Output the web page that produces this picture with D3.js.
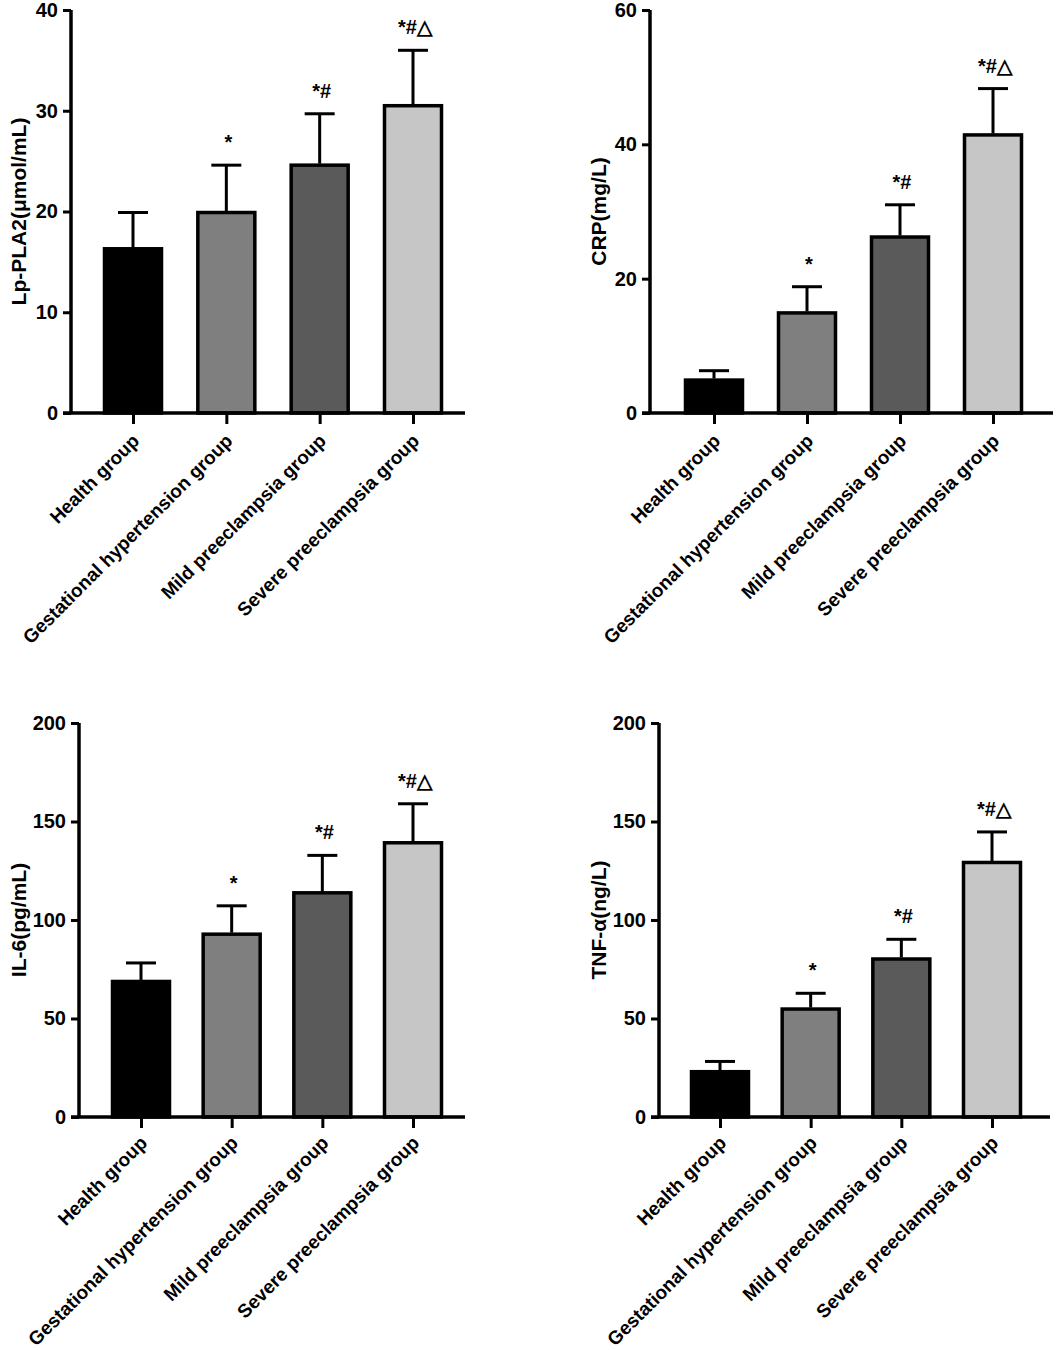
<!DOCTYPE html>
<html>
<head>
<meta charset="utf-8">
<script src="https://cdn.jsdelivr.net/npm/d3@7/dist/d3.min.js"></script>
<style>
  html, body { margin: 0; padding: 0; background: #fff; }
  svg { display: block; }
  text { font-family: "Liberation Sans", Arial, sans-serif; }
</style>
</head>
<body>
<svg id="chart" width="1064" height="1350"></svg>
<script>
// ---------------- DATA ----------------
const categories = ["Health group", "Gestational hypertension group", "Mild preeclampsia group", "Severe preeclampsia group"];
const barColors = ["#000000", "#7f7f7f", "#5a5a5a", "#c6c6c6"];
const marks = ["", "*", "*#", "*#\u25B3"];

const lpMean = [16.3, 19.9, 24.6, 30.5];
const lpSD   = [3.6, 4.7, 5.1, 5.5];
const crpMean = [4.9, 14.9, 26.2, 41.4];
const crpSD   = [1.4, 3.9, 4.8, 6.9];
const il6Mean = [68.8, 92.8, 113.8, 139.2];
const il6SD   = [9.4, 14.4, 19.0, 19.8];
const tnfMean = [23.0, 54.8, 80.2, 129.2];
const tnfSD   = [5.2, 8.0, 10.0, 15.5];

const lpTicks = [0, 10, 20, 30, 40];
const crpTicks = [0, 20, 40, 60];
const cytoTicks = [0, 50, 100, 150, 200];

// ---------------- LAYOUT ----------------
const panels = [
  { title: "Lp-PLA2(\u03bcmol/mL)", mean: lpMean, sd: lpSD, ticks: lpTicks, max: 40,
    axisX: 71, axisEnd: 465, yTop: 10, yBot: 413, c0: 133, c1: 413, labX: 18, labDy: 29 },
  { title: "CRP(mg/L)", mean: crpMean, sd: crpSD, ticks: crpTicks, max: 60,
    axisX: 650, axisEnd: 1053, yTop: 10, yBot: 413, c0: 714, c1: 993, labX: 598, labDy: 29 },
  { title: "IL-6(pg/mL)", mean: il6Mean, sd: il6SD, ticks: cytoTicks, max: 200,
    axisX: 79, axisEnd: 465, yTop: 723, yBot: 1117, c0: 141, c1: 413, labX: 18, labDy: 27 },
  { title: "TNF-\u03b1(ng/L)", mean: tnfMean, sd: tnfSD, ticks: cytoTicks, max: 200,
    axisX: 659, axisEnd: 1050, yTop: 723, yBot: 1117, c0: 720, c1: 992, labX: 598, labDy: 27 }
];

const svg = d3.select("#chart");
const barW = 57;
const capW = 30;
const FONT = "'Liberation Sans', Arial, sans-serif";

panels.forEach(p => {
  const g = svg.append("g");
  const y = d3.scaleLinear().domain([0, p.max]).range([p.yBot, p.yTop]);
  const x = d3.scalePoint().domain(categories).range([p.c0, p.c1]);

  // bars
  g.selectAll("rect.bar").data(categories).enter().append("rect")
    .attr("x", d => x(d) - barW / 2)
    .attr("y", (d, i) => y(p.mean[i]))
    .attr("width", barW)
    .attr("height", (d, i) => y(0) - y(p.mean[i]))
    .attr("fill", (d, i) => barColors[i])
    .attr("stroke", "#000")
    .attr("stroke-width", 3.5);

  // error bars
  g.selectAll("line.err").data(categories).enter().append("line")
    .attr("x1", d => x(d)).attr("x2", d => x(d))
    .attr("y1", (d, i) => y(p.mean[i]) - 1.5)
    .attr("y2", (d, i) => y(p.mean[i] + p.sd[i]))
    .attr("stroke", "#000").attr("stroke-width", 3);
  g.selectAll("line.cap").data(categories).enter().append("line")
    .attr("x1", d => x(d) - capW / 2).attr("x2", d => x(d) + capW / 2)
    .attr("y1", (d, i) => y(p.mean[i] + p.sd[i]))
    .attr("y2", (d, i) => y(p.mean[i] + p.sd[i]))
    .attr("stroke", "#000").attr("stroke-width", 3);

  // significance marks
  g.selectAll("text.mark").data(categories).enter().append("text")
    .attr("x", d => x(d) + 2)
    .attr("y", (d, i) => y(p.mean[i] + p.sd[i]) - 16)
    .attr("text-anchor", "middle")
    .attr("font-size", 20)
    .attr("font-weight", "bold")
    .attr("fill", "#000")
    .text((d, i) => marks[i]);

  // y axis
  const yAxis = d3.axisLeft(y).tickValues(p.ticks).tickSize(8).tickPadding(5).tickFormat(d3.format("d"));
  const ya = g.append("g").attr("transform", `translate(${p.axisX},0)`).call(yAxis);
  ya.select(".domain").attr("stroke", "#000").attr("stroke-width", 3.5)
    .attr("d", `M0,${p.yBot}V${p.yTop}`);
  ya.selectAll(".tick line").attr("stroke", "#000").attr("stroke-width", 3);
  ya.selectAll(".tick text").attr("font-size", 20).attr("font-weight", "bold")
    .attr("font-family", FONT).attr("fill", "#000");

  // x axis
  const xAxis = d3.axisBottom(x).tickSize(11).tickPadding(6);
  const xa = g.append("g").attr("transform", `translate(0,${p.yBot})`).call(xAxis);
  xa.select(".domain").attr("stroke", "#000").attr("stroke-width", 3.5)
    .attr("d", `M${p.axisX - 8},0H${p.axisEnd}`);
  xa.selectAll(".tick line").attr("stroke", "#000").attr("stroke-width", 3);
  xa.selectAll(".tick text")
    .attr("font-size", 19).attr("font-weight", "bold")
    .attr("font-family", FONT).attr("fill", "#000")
    .attr("text-anchor", "end")
    .attr("dy", null)
    .attr("transform", `translate(7,${p.labDy}) rotate(-45)`)
    .attr("x", 0).attr("y", 0);

  // y label
  g.append("text")
    .attr("transform", `translate(${p.labX},${(p.yTop + p.yBot) / 2}) rotate(-90)`)
    .attr("text-anchor", "middle")
    .attr("dominant-baseline", "central")
    .attr("font-size", 21).attr("font-weight", "bold").attr("fill", "#000")
    .text(p.title);
});
</script>
</body>
</html>
